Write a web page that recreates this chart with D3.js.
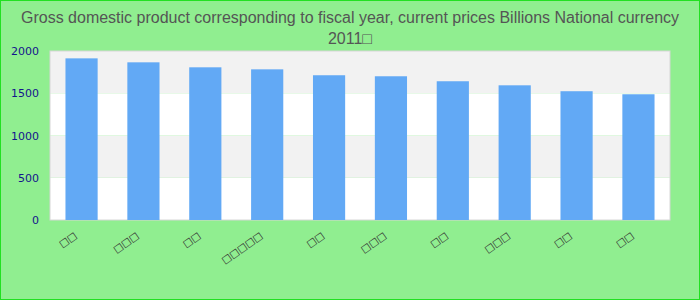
<!DOCTYPE html>
<html>
<head>
<meta charset="utf-8">
<script src="https://cdn.jsdelivr.net/npm/d3@7"></script>
<style>
  body { margin: 0; background: #fff; }
  svg { display: block; }
</style>
</head>
<body>
<script>
// labels rendered as missing-glyph boxes in the reference
const categories = ['□□', '□□□', '□□ ', '□□□□□', '□□  ', '□□□ ', '□□   ', '□□□  ', '□□    ', '□□     ']
const values = [1913, 1866, 1807, 1783, 1713, 1701, 1642, 1594, 1524, 1488]
const yTicks = [0, 500, 1000, 1500, 2000]
const titleLines = ['Gross domestic product corresponding to fiscal year, current prices Billions National currency', '2011□']

let width = 700
let height = 300
let margin = {top: 51, right: 30, bottom: 80, left: 50}

const svg = d3.select('body').append('svg').attr('width', width).attr('height', height)

svg.append('rect')
  .attr('x', 0.5).attr('y', 0.5)
  .attr('width', width - 1).attr('height', height - 1)
  .attr('fill', '#90ee90')
  .attr('stroke', '#22e022')

svg.append('g')
  .selectAll('text')
  .data(titleLines)
  .enter()
  .append('text')
  .attr('x', width / 2)
  .attr('y', (d, i) => 23 + i * 21)
  .attr('text-anchor', 'middle')
  .style('font-family', 'Liberation Sans, Arial, sans-serif')
  .style('font-size', '16px')
  .attr('fill', '#555')
  .text(d => d)

const x = d3.scaleBand()
  .domain(categories)
  .range([margin.left, width - margin.right])
  .paddingInner(0.48)
  .paddingOuter(0.25)

const y = d3.scaleLinear()
  .domain([0, 2000])
  .range([height - margin.bottom, margin.top])

// alternating bands
const bands = d3.pairs(yTicks)
svg.append('g')
  .selectAll('rect')
  .data(bands)
  .enter()
  .append('rect')
  .attr('x', margin.left)
  .attr('width', width - margin.left - margin.right)
  .attr('y', d => y(d[1]))
  .attr('height', d => y(d[0]) - y(d[1]))
  .attr('fill', (d, i) => i % 2 ? '#f2f2f2' : '#ffffff')

svg.append('rect')
  .attr('x', margin.left).attr('y', margin.top)
  .attr('width', width - margin.left - margin.right)
  .attr('height', height - margin.top - margin.bottom)
  .attr('fill', 'none')
  .attr('stroke', '#d6d6d6')

svg.append('g')
  .selectAll('rect')
  .data(values)
  .enter()
  .append('rect')
  .attr('x', (d, i) => x(categories[i]))
  .attr('width', x.bandwidth())
  .attr('y', d => y(d))
  .attr('height', d => y(0) - y(d))
  .attr('fill', '#62a9f5')

const yAxis = d3.axisLeft(y).tickValues(yTicks).tickFormat(d3.format('d')).tickSize(0).tickPadding(11)
svg.append('g')
  .attr('transform', `translate(${margin.left},0)`)
  .call(yAxis)
  .call(g => g.select('.domain').remove())
  .selectAll('text')
  .style('font-family', 'DejaVu Sans, sans-serif')
  .style('font-size', '11px')
  .attr('fill', '#14148c')

const xAxis = d3.axisBottom(x).tickSize(0).tickPadding(0).tickFormat(d => d.trim())
svg.append('g')
  .attr('transform', `translate(0,${height - margin.bottom})`)
  .call(xAxis)
  .call(g => g.select('.domain').remove())
  .selectAll('text')
  .style('font-family', 'DejaVu Sans, sans-serif')
  .style('font-size', '10px')
  .attr('fill', '#333')
  .attr('text-anchor', 'end')
  .attr('transform', 'translate(-4,17) rotate(-35)')
  .attr('dy', '0')
</script>
</body>
</html>
